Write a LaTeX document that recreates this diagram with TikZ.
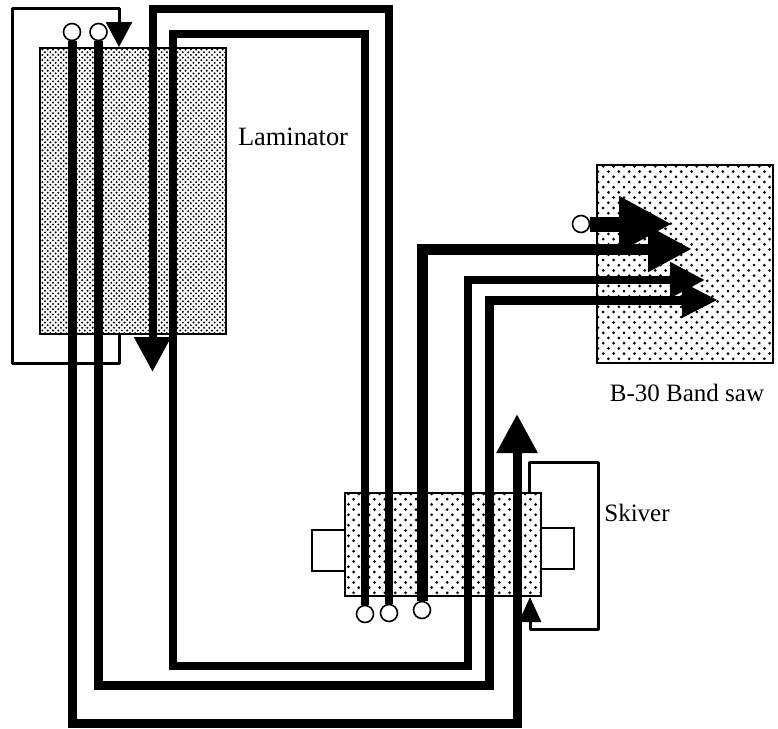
\documentclass[tikz,border=0pt]{standalone}
\usepackage{fontspec}
\setmainfont{Liberation Serif}
\usepackage{tikz}
\usetikzlibrary{arrows.meta,patterns}
\pgfdeclarepatternformonly{densedots}{\pgfqpoint{-1pt}{-1pt}}{\pgfqpoint{4.3pt}{4.3pt}}{\pgfqpoint{5.3pt}{5.3pt}}{
  \pgfpathcircle{\pgfqpoint{0pt}{0pt}}{1.1pt}\pgfpathcircle{\pgfqpoint{2.65pt}{2.65pt}}{1.1pt}\pgfusepath{fill}}
\pgfdeclarepatternformonly{sparsedots}{\pgfqpoint{-2pt}{-2pt}}{\pgfqpoint{8.4pt}{8.4pt}}{\pgfqpoint{10.4pt}{10.4pt}}{
  \pgfpathcircle{\pgfqpoint{0pt}{0pt}}{1.5pt}\pgfpathcircle{\pgfqpoint{5.2pt}{5.2pt}}{1.5pt}\pgfusepath{fill}}
\tikzset{
  loopline/.style={line width=3pt,line join=round},
  flow/.style={line width=#1,line join=miter},
  hole/.style={circle,draw,fill=white,line width=1.6pt,inner sep=0pt,minimum size=17pt},
  label/.style={font=\fontsize{25}{28}\selectfont,inner sep=0pt}
}
\begin{document}
\begin{tikzpicture}[x=1pt,y=-1pt,line width=1.8pt]
        \useasboundingbox (0,0) rectangle (778,728);
        %Laminator
            \draw[pattern=densedots] (40,48) rectangle (226,334);
            \draw (119,334) coordinate(l1) (119,363) coordinate(l2) (12,363) coordinate(l3)
                  (12,8) coordinate(l4) (119,8) coordinate(l5) (119,47) coordinate(l6);
            \draw[loopline,-{Triangle[length=25pt,width=26pt]}] (l1) to (l2) to (l3) to (l4) to (l5) to (l6);
            \draw(293,137) node(lam) [label,font=\fontsize{26.4}{28}\selectfont]{Laminator};

        %Band saw
            \draw[pattern=sparsedots] (597,165) rectangle (773,363);
            \draw(687,393) node(saw) [label]{B-30 Band saw};

        %Skiver
            \draw (529,493) coordinate(s1) (529,462) coordinate(s2) (598,462) coordinate(s3)
                  (598,629) coordinate(s4) (530,629) coordinate(s5) (530,597) coordinate(s6);
            \draw[loopline,-{Triangle[length=25pt,width=22pt]}] (s1) to (s2) to (s3) to (s4) to (s5) to (s6);
            \draw[fill=white] (312,530) rectangle (345,571);
            \draw[fill=white] (541,528) rectangle (574,569);
            \draw[pattern=sparsedots] (345,493) rectangle (541,596);
            \draw(637,513) node(skv) [label]{Skiver};

        %flows
            \draw (72,32) node(a) [hole] {}
                  (98.5,32) node(b) [hole] {}
                  (365,614) node(c) [hole] {}
                  (389,613) node(d) [hole] {}
                  (422,610) node(e) [hole] {}
                  (581,224) node(f) [hole] {};
            \draw (72,723) coordinate(a1) (517,723) coordinate(a2) (517,414) coordinate(a3)
                  (98.5,685) coordinate(b1) (489,685) coordinate(b2) (489,300) coordinate(b3) (718,300) coordinate(b4)
                  (365,34) coordinate(c1) (173,34) coordinate(c2) (173,666) coordinate(c3)
                  (468,666) coordinate(c4) (468,280) coordinate(c5) (705,280) coordinate(c6)
                  (389,8.5) coordinate(d1) (152.5,8.5) coordinate(d2) (152.5,372) coordinate(d3)
                  (422,249) coordinate(e1) (692,249) coordinate(e2)
                  (672,224) coordinate(f1);
            \draw[flow=9pt,-{Triangle[length=39pt,width=39pt]}] (a) to (a1) to (a2) to (a3);
            \draw[flow=9pt,-{Triangle[length=36pt,width=33pt]}] (b) to (b1) to (b2) to (b3) to (b4);
            \draw[flow=8pt,-{Triangle[length=35pt,width=34pt]}] (c) to (c1) to (c2) to (c3) to (c4) to (c5) to (c6);
            \draw[flow=8pt,-{Triangle[length=35pt,width=35pt]}] (d) to (d1) to (d2) to (d3);
            \draw[flow=11pt,-{Triangle[length=44pt,width=43pt]}] (e) to (e1) to (e2);
            \draw[flow=15pt,-{Triangle[length=53pt,width=52pt]}] (f) to (f1);
        \end{tikzpicture}
\end{document}
